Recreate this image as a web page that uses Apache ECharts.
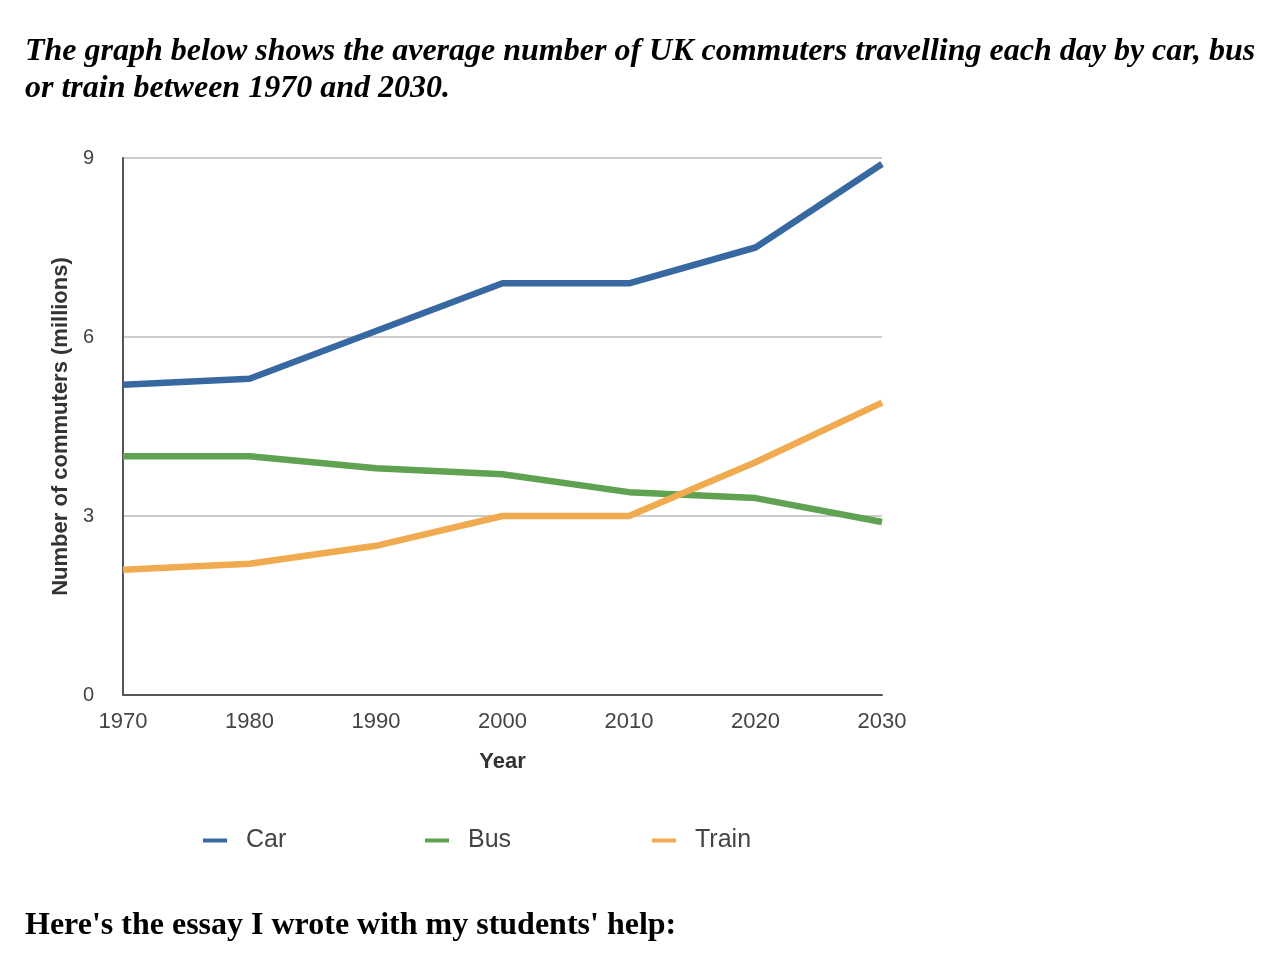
<!DOCTYPE html>
<html><head><meta charset="utf-8">
<script src="https://cdn.jsdelivr.net/npm/echarts@6/dist/echarts.min.js"></script>
<style>
html,body{margin:0;padding:0;background:#fff;width:1268px;height:978px;overflow:hidden;}
#chart{position:absolute;left:0;top:0;width:1268px;height:978px;}
.t{position:absolute;left:25px;font-family:"Liberation Serif","Times New Roman",serif;font-weight:bold;color:#000;white-space:nowrap;font-size:32px;line-height:37px;}
#title{top:31px;font-style:italic;}
#foot{top:905px;}
</style></head>
<body>
<div id="chart"></div>
<div class="t" id="title">The graph below shows the average number of UK commuters travelling each day by car, bus<br>or train between 1970 and 2030.</div>
<div class="t" id="foot">Here's the essay I wrote with my students' help:</div>
<script>
const years = ['1970','1980','1990','2000','2010','2020','2030'];
const car = [5.2, 5.3, 6.1, 6.9, 6.9, 7.5, 8.9];
const bus = [4.0, 4.0, 3.8, 3.7, 3.4, 3.3, 2.9];
const train = [2.1, 2.2, 2.5, 3.0, 3.0, 3.9, 4.9];
const yTicks = [0, 3, 6, 9];

const colors = {Car:'#3868a2', Bus:'#5fa252', Train:'#f0aa4f'};
const chart = echarts.init(document.getElementById('chart'));
const font = '"Liberation Sans", Arial, Helvetica, sans-serif';
function legend(name, left){
  return {data:[name], left:left, top:828, padding:0, icon:'rect', itemWidth:24, itemHeight:4, itemGap:0,
    textStyle:{fontFamily:font, fontSize:25, color:'#444', padding:[0,0,0,14]}, selectedMode:false};
}
chart.setOption({
  animation:false,
  color:[colors.Car, colors.Bus, colors.Train],
  grid:{left:123, top:158, right:386, bottom:283},
  legend:[legend('Car',203), legend('Bus',425), legend('Train',652)],
  xAxis:{type:'category', data:years, boundaryGap:false,
    axisLine:{lineStyle:{color:'#555', width:2}}, axisTick:{show:false},
    axisLabel:{fontFamily:font, fontSize:22, color:'#444', margin:16},
    name:'Year', nameLocation:'middle', nameGap:56,
    nameTextStyle:{fontFamily:font, fontSize:22, fontWeight:'bold', color:'#333'}},
  yAxis:{type:'value', min:0, max:9, interval:3,
    axisLine:{show:true, lineStyle:{color:'#555', width:2}}, axisTick:{show:false},
    axisLabel:{fontFamily:font, fontSize:20, color:'#444', margin:29,
      formatter:v=>yTicks.includes(v)?String(v):''},
    splitLine:{lineStyle:{color:'#cccccc', width:2}},
    name:'Number of commuters (millions)', nameLocation:'middle', nameGap:50, nameRotate:90,
    nameTextStyle:{fontFamily:font, fontSize:22, fontWeight:'bold', color:'#333'}},
  series:[
    {name:'Car', type:'line', data:car, symbol:'none', lineStyle:{width:6.5, color:colors.Car}, itemStyle:{color:colors.Car}},
    {name:'Bus', type:'line', data:bus, symbol:'none', lineStyle:{width:6.5, color:colors.Bus}, itemStyle:{color:colors.Bus}},
    {name:'Train', type:'line', data:train, symbol:'none', lineStyle:{width:6.5, color:colors.Train}, itemStyle:{color:colors.Train}}
  ]
});
</script>
</body></html>
